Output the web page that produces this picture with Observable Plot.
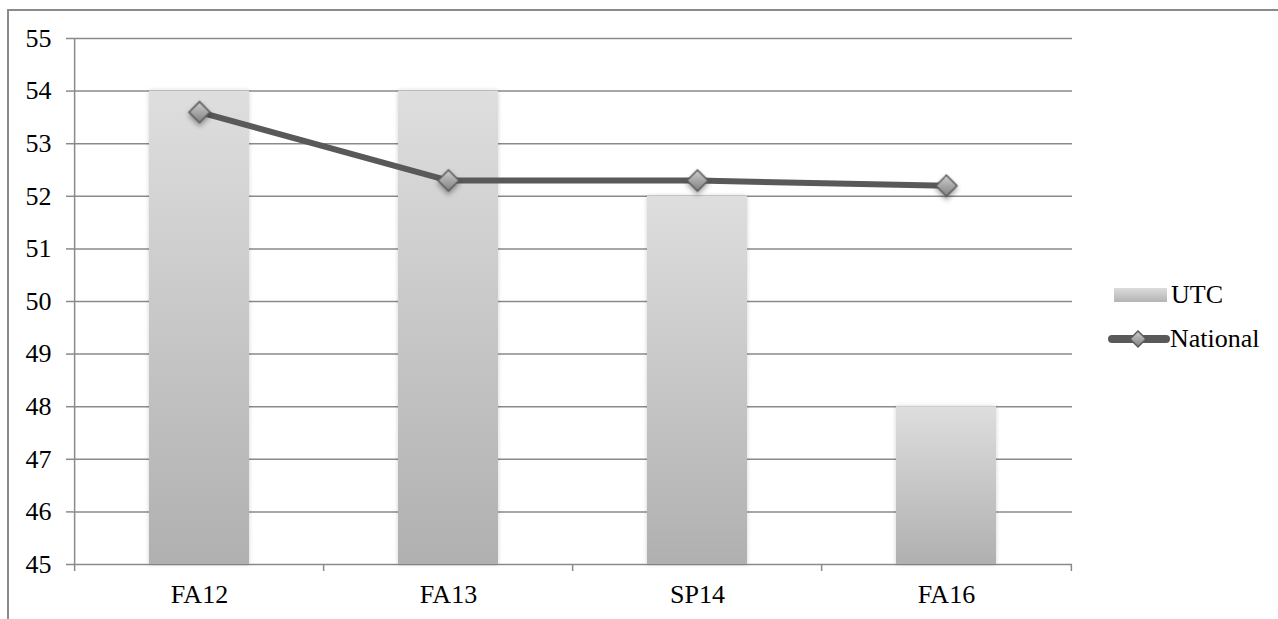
<!DOCTYPE html>
<html>
<head>
<meta charset="utf-8">
<script src="https://cdn.jsdelivr.net/npm/d3@7"></script>
<script src="https://cdn.jsdelivr.net/npm/@observablehq/plot@0.6"></script>
<style>
  html, body { margin: 0; padding: 0; background: #fff; overflow: hidden; }
  #wrap { position: relative; width: 1278px; height: 619px; }
  #border { position: absolute; left: 7px; top: 9px; width: 2000px; height: 2000px;
            border-left: 2px solid #8a8a8a; border-top: 2px solid #8a8a8a; box-sizing: border-box; }
  #chart { position: absolute; left: 0; top: 0; }
  .legend { position: absolute; left: 1108px; color: #000; display: flex; align-items: center;
            font-family: 'Liberation Serif'; font-size: 26px; }
  .legend .sw { width: 53px; height: 14px; margin: 0 4px 0 6px;
                background: linear-gradient(#dcdcdc, #b4b4b4); }
</style>
</head>
<body>
<div id="wrap">
  <div id="border"></div>
  <div id="chart"></div>
  <div class="legend" style="top:280px"><span class="sw"></span><span>UTC</span></div>
  <div class="legend" style="top:324px">
    <svg width="62" height="24" viewBox="0 0 62 24">
      <defs>
        <linearGradient id="legDia" x1="0" y1="0" x2="0" y2="1">
          <stop offset="0" stop-color="#cfcfcf"/><stop offset="1" stop-color="#808080"/>
        </linearGradient>
      </defs>
      <line x1="4" y1="12" x2="58" y2="12" stroke="#595959" stroke-width="8" stroke-linecap="round"/>
      <path d="M30,4 L38,12 L30,20 L22,12 Z" fill="url(#legDia)" stroke="#595959" stroke-width="1.5"/>
    </svg>
    <span>National</span>
  </div>
</div>
<script>
// Survey terms and values
const terms = ["FA12", "FA13", "SP14", "FA16"];
const utc = [54, 54, 52, 48];
const national = [53.6, 52.3, 52.3, 52.2];
const yTicks = [45, 46, 47, 48, 49, 50, 51, 52, 53, 54, 55];

const rows = terms.map((t, i) => ({term: t, utc: utc[i], national: national[i]}));
const yMin = d3.min(yTicks), yMax = d3.max(yTicks);

const W = 1278, H = 619;
const mL = 73, mR = 206, mT = 38, mB = 55;
const step = (W - mL - mR) / terms.length;
const gridColor = "#8a8a8a";
const fontSize = 26;

const shadow = (id) => (index, scales, values, dims, ctx, next) => {
  const g = next(index, scales, values, dims, ctx);
  g.setAttribute("filter", `url(#${id})`);
  return g;
};

const chart = Plot.plot({
  width: W,
  height: H,
  marginLeft: mL,
  marginRight: mR,
  marginTop: mT,
  marginBottom: mB,
  style: {fontFamily: "Liberation Serif", fontSize: `${fontSize}px`, color: "#000", background: "transparent"},
  x: {domain: terms, paddingInner: 0.6, paddingOuter: 0.3, label: null},
  y: {domain: [yMin, yMax], label: null},
  marks: [
    Plot.gridY(yTicks, {stroke: gridColor, strokeOpacity: 1, strokeWidth: 1.5}),
    Plot.axisY(yTicks, {tickSize: 7, tickPadding: 15, tickFormat: "d", stroke: gridColor, strokeWidth: 1.5, fill: "#000", fontSize, label: null}),
    Plot.axisX({tickSize: 0, tickPadding: 20, fill: "#000", fontSize, label: null}),
    Plot.barY(rows, {x: "term", y1: yMin, y2: "utc", fill: "url(#utcGrad)", render: shadow("barShadow")}),
    // y axis line, extended down into the first category tick
    Plot.ruleX(terms.slice(0, 1), {dx: -step / 2, y1: yMax, y2: yMin, insetBottom: -7, stroke: gridColor, strokeWidth: 1.5}),
    // category boundary ticks below the x axis
    Plot.ruleX(terms.slice(1), {dx: -step / 2, y1: yMin, y2: yMin, insetBottom: -7, stroke: gridColor, strokeWidth: 1.5}),
    Plot.ruleX(terms.slice(-1), {dx: step / 2, y1: yMin, y2: yMin, insetBottom: -7, stroke: gridColor, strokeWidth: 1.5}),
    Plot.lineY(rows, {x: "term", y: "national", stroke: "#595959", strokeWidth: 6}),
    Plot.dot(rows, {x: "term", y: "national", symbol: "diamond2", r: 9.5, fill: "url(#diaGrad)", stroke: "#595959", strokeWidth: 1.5, render: shadow("dotShadow")})
  ]
});

// gradients and soft shadows referenced by the marks
const defs = d3.select(chart).insert("defs", ":first-child");
const bg = defs.append("linearGradient").attr("id", "utcGrad").attr("x1", 0).attr("y1", 0).attr("x2", 0).attr("y2", 1);
bg.append("stop").attr("offset", 0).attr("stop-color", "#dedede");
bg.append("stop").attr("offset", 1).attr("stop-color", "#b0b0b0");
const dg = defs.append("linearGradient").attr("id", "diaGrad").attr("x1", 0).attr("y1", 0).attr("x2", 0).attr("y2", 1);
dg.append("stop").attr("offset", 0).attr("stop-color", "#cfcfcf");
dg.append("stop").attr("offset", 1).attr("stop-color", "#808080");
defs.append("filter").attr("id", "barShadow").attr("x", "-20%").attr("y", "-5%").attr("width", "140%").attr("height", "110%")
  .append("feDropShadow").attr("dx", 0).attr("dy", 0).attr("stdDeviation", 2).attr("flood-color", "#000").attr("flood-opacity", 0.18);
defs.append("filter").attr("id", "dotShadow").attr("x", "-50%").attr("y", "-50%").attr("width", "200%").attr("height", "200%")
  .append("feDropShadow").attr("dx", 0).attr("dy", 3).attr("stdDeviation", 2.5).attr("flood-color", "#000").attr("flood-opacity", 0.35);

document.getElementById("chart").appendChild(chart);
</script>
</body>
</html>
